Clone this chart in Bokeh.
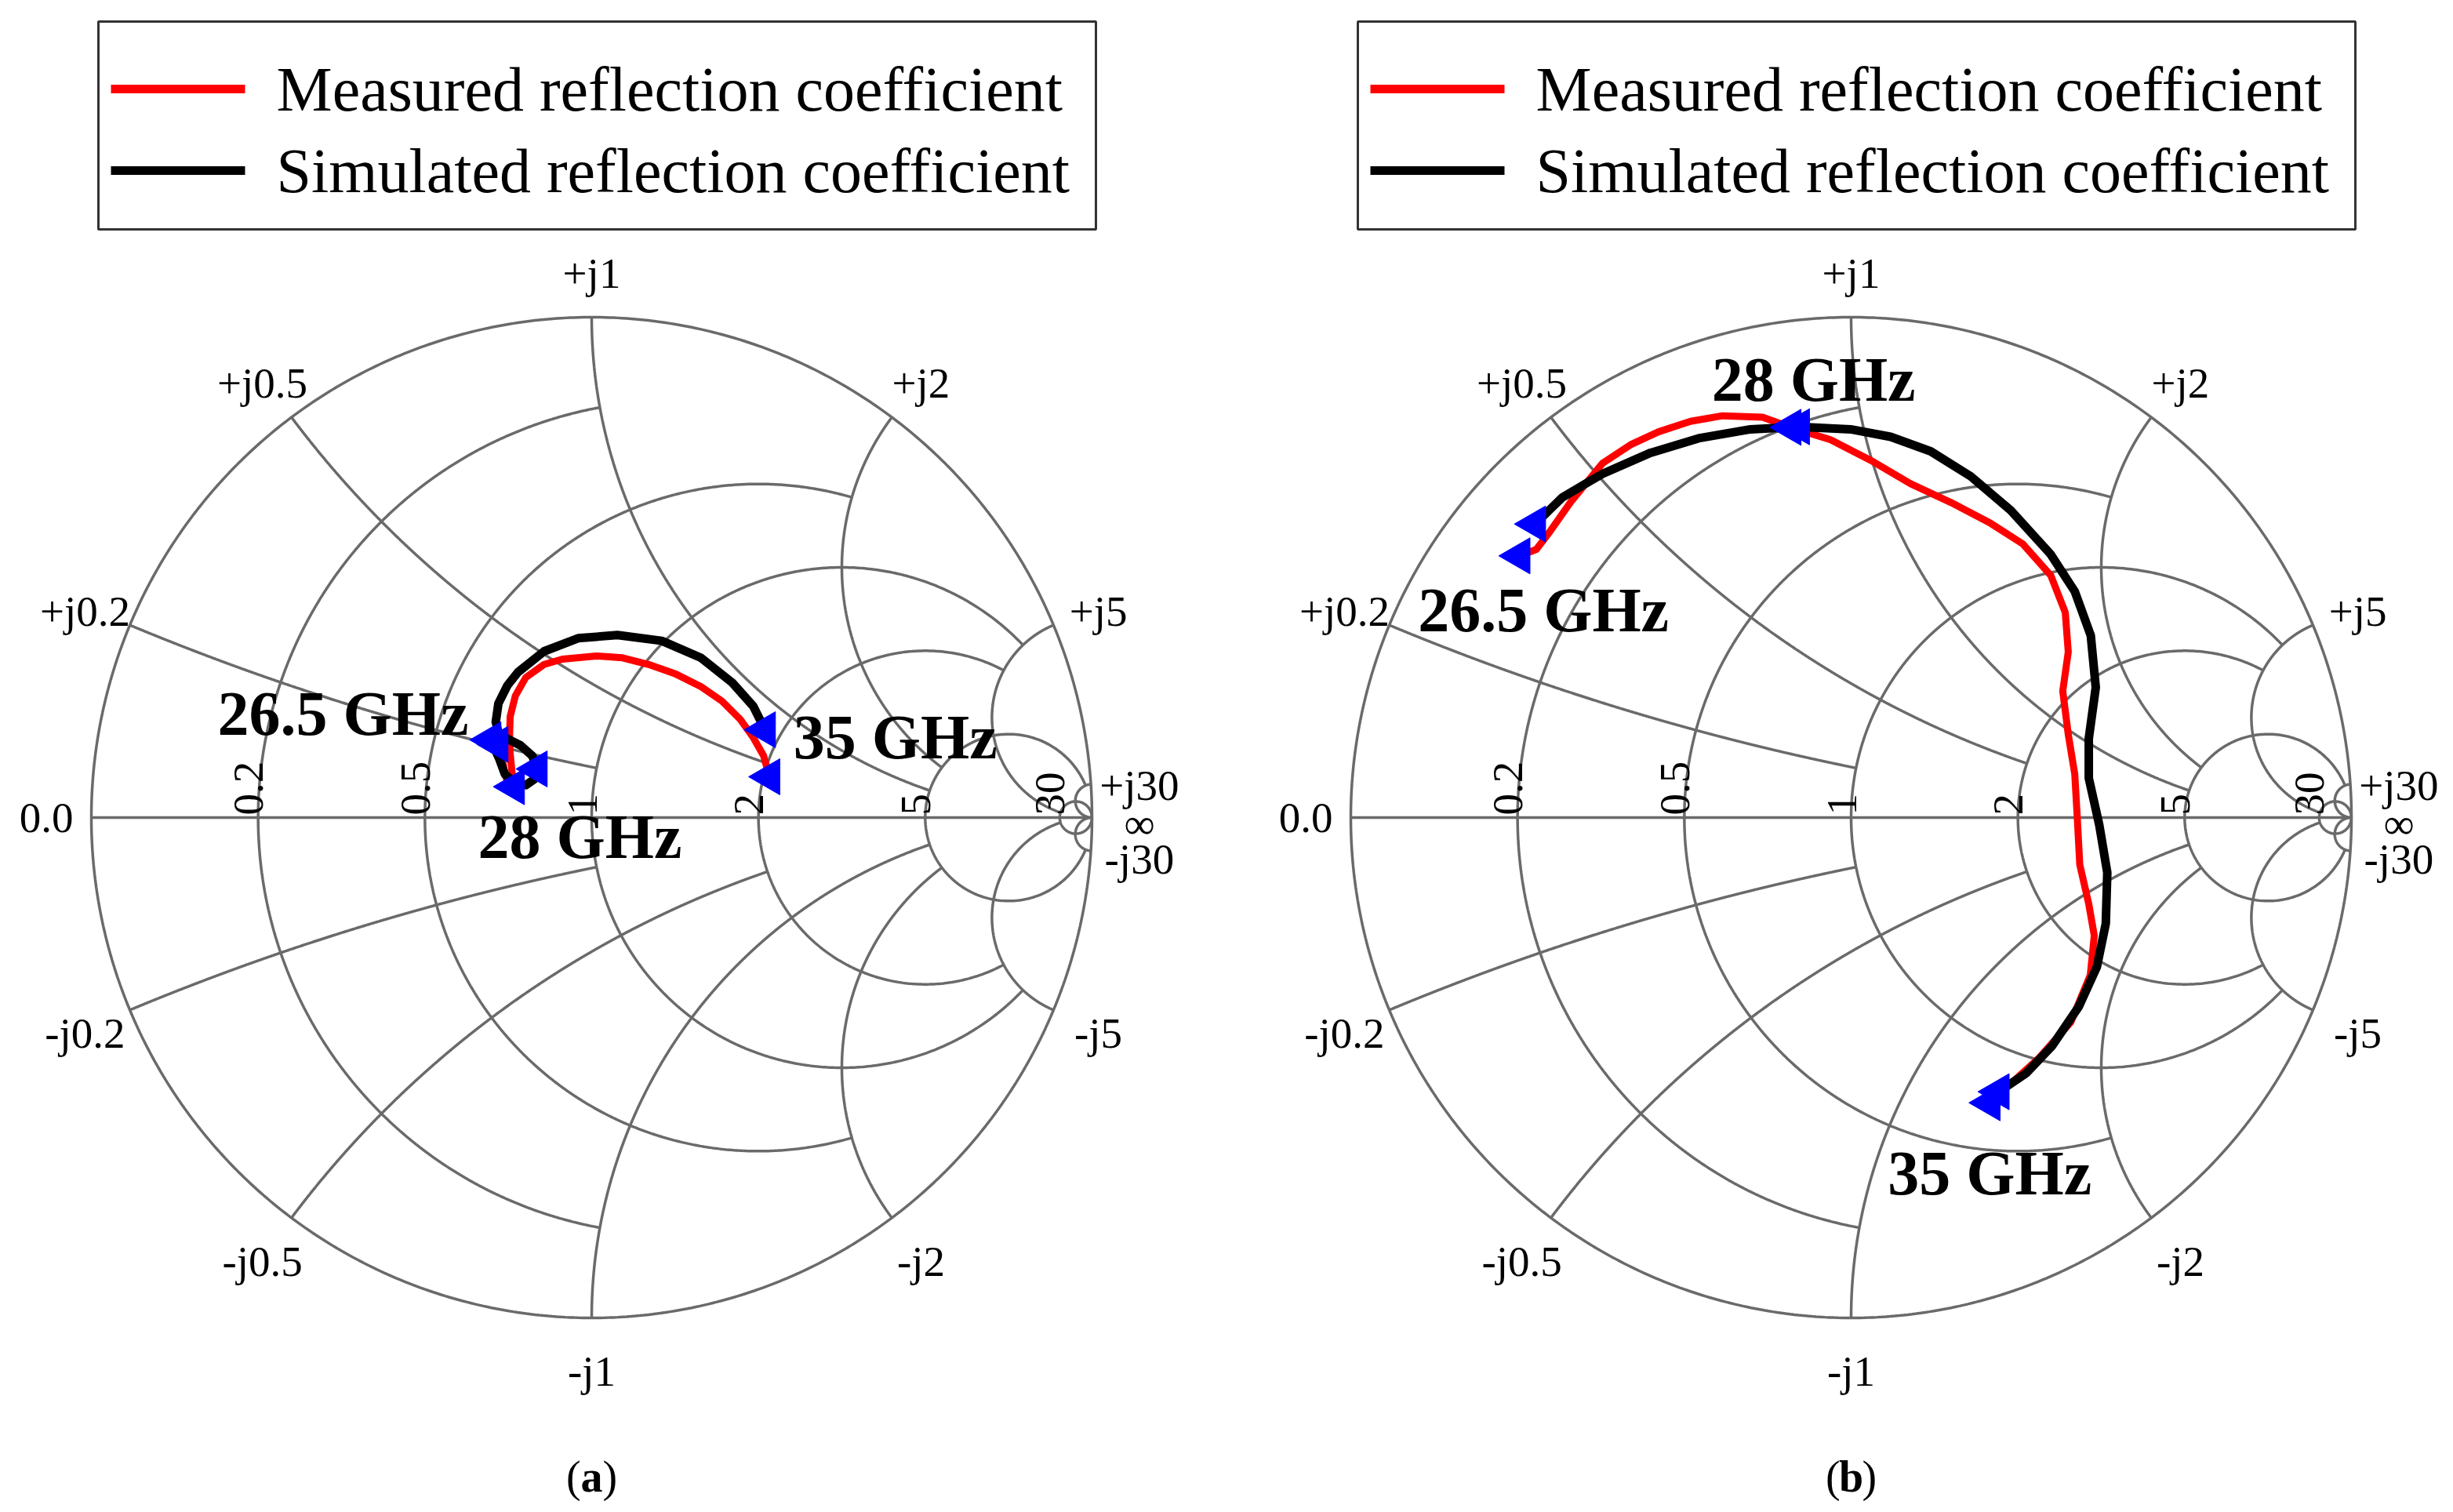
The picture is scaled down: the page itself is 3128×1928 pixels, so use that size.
import numpy as np
from bokeh.plotting import figure
from bokeh.models import Range1d
from bokeh.core.properties import value
from bokeh.embed import file_html
from bokeh.resources import INLINE

# Smith chart grid: circle values and up to which value each one is drawn
grid_values = [0.2, 0.5, 1, 2, 5, 30]
grid_limits = [1, 2, 5, 5, 30, np.inf]

legend_labels = ["Measured reflection coefficient", "Simulated reflection coefficient"]
freq_labels = ["26.5 GHz", "28 GHz", "35 GHz"]
panel_tags = ["a", "b"]

# (a) reflection coefficient, real / imaginary part (26.5 -> 35 GHz)
a_meas_re = [-0.1881, -0.1787, -0.1745, -0.1693, -0.1604, -0.1552, -0.1588, -0.1630, -0.1641, -0.1630,
             -0.1525, -0.1317, -0.0951, -0.0585, 0.0094, 0.0616, 0.1139, 0.1661, 0.2183, 0.2602,
             0.2967, 0.3229, 0.3437, 0.3553]
a_meas_im = [0.1463, 0.1181, 0.0920, 0.0737, 0.0648, 0.0617, 0.0867, 0.1285, 0.1651, 0.2017,
             0.2434, 0.2800, 0.3060, 0.3166, 0.3229, 0.3193, 0.3060, 0.2878, 0.2618, 0.2330,
             0.1964, 0.1599, 0.1233, 0.0815]
a_meas_28 = 5
a_sim_re = [-0.2022, -0.1850, -0.1735, -0.1525, -0.1317, -0.1149, -0.1097, -0.1186, -0.1421, -0.1682,
            -0.1865, -0.1917, -0.1865, -0.1682, -0.1473, -0.0951, -0.0271, 0.0513, 0.1400, 0.2183,
            0.2810, 0.3229, 0.3464]
a_sim_im = [0.1552, 0.1181, 0.0867, 0.0685, 0.0648, 0.0763, 0.0972, 0.1233, 0.1442, 0.1572,
            0.1703, 0.1912, 0.2278, 0.2644, 0.2905, 0.3323, 0.3584, 0.3647, 0.3532, 0.3193,
            0.2696, 0.2226, 0.1755]
a_sim_28 = 6

# (b)
b_meas_re = [-0.6627, -0.629, -0.601, -0.561, -0.497, -0.441, -0.385, -0.321, -0.257, -0.177,
             -0.121, -0.041, 0.039, 0.119, 0.199, 0.279, 0.343, 0.399, 0.428, 0.434,
             0.423, 0.434, 0.447, 0.452, 0.457, 0.475, 0.486, 0.478, 0.439, 0.376, 0.277]
b_meas_im = [0.523, 0.536, 0.573, 0.630, 0.708, 0.745, 0.771, 0.792, 0.803, 0.800,
             0.780, 0.755, 0.714, 0.667, 0.630, 0.588, 0.547, 0.484, 0.410, 0.331,
             0.253, 0.166, 0.087, 0.0, -0.094, -0.173, -0.236, -0.315, -0.409, -0.480, -0.570]
b_meas_28 = 10
b_sim_re = [-0.6315, -0.577, -0.497, -0.401, -0.305, -0.201, -0.104, -0.001, 0.079, 0.159,
            0.239, 0.319, 0.399, 0.447, 0.479, 0.489, 0.475, 0.475, 0.496, 0.512,
            0.509, 0.491, 0.455, 0.402, 0.350, 0.295]
b_sim_im = [0.5867, 0.640, 0.687, 0.729, 0.758, 0.776, 0.781, 0.776, 0.761, 0.732,
            0.682, 0.614, 0.526, 0.452, 0.364, 0.260, 0.158, 0.079, -0.015, -0.110,
            -0.212, -0.299, -0.378, -0.456, -0.511, -0.548]
b_sim_28 = 6

# where the frequency captions sit in each chart (unit circle coords)
a_label_pos = [(-0.497, 0.207), (-0.0235, -0.038), (0.607, 0.160)]
b_label_pos = [(-0.615, 0.415), (-0.075, 0.876), (0.277, -0.711)]

PX = 638.0          # pixels per unit radius
W, H = 3112, 1920
CX, CY = 754, 1042  # centre of chart (a) on the page
FONT = value("Liberation Serif")
GRID = "#6a6a6a"

p = figure(width=W, height=H, output_backend="svg", toolbar_location=None,
           x_range=Range1d(-CX / PX, -CX / PX + W / PX),
           y_range=Range1d(CY / PX - H / PX, CY / PX),
           x_axis_location=None, y_axis_location=None, min_border=0)
p.grid.visible = False
p.outline_line_color = None
p.background_fill_color = "white"
p.border_fill_color = "white"


def z2g(z):
    return (z - 1) / (z + 1)


def grid_lines():
    xs, ys = [], []
    t = np.linspace(0, 2 * np.pi, 721)
    xs.append(np.cos(t)); ys.append(np.sin(t))
    xs.append(np.array([-1.0, 1.0])); ys.append(np.array([0.0, 0.0]))
    for v, lim in zip(grid_values, grid_limits):
        tmax = np.arctan(lim) if np.isfinite(lim) else np.pi / 2 - 1e-7
        t = np.linspace(-tmax, tmax, 800)
        g = z2g(v + 1j * np.tan(t))          # resistance circle
        xs.append(g.real); ys.append(g.imag)
        t = np.linspace(0, tmax, 800)
        for s in (1, -1):                    # reactance arcs
            g = z2g(np.tan(t) + 1j * s * v)
            xs.append(g.real); ys.append(g.imag)
    return xs, ys


def draw_panel(dx, meas_re, meas_im, m28, sim_re, sim_im, s28, label_pos, tag):
    gx, gy = grid_lines()
    p.multi_line(xs=[x + dx for x in gx], ys=gy, line_color=GRID, line_width=3.5)

    # grid labels
    tx, ty, tt = [], [], []
    for v in grid_values:
        g = z2g(1j * v) * 1.097
        for s, sign in ((1, "+"), (-1, "-")):
            tx.append(g.real + dx); ty.append(s * g.imag - 6 / PX)
            tt.append(f"{sign}j{v:g}")
    tx += [-1.09 + dx, 1.095 + dx]; ty += [0.0, -0.012]; tt += ["0.0", "\u221e"]
    p.text(x=tx, y=ty, text=tt, text_font=FONT, text_font_size="55px",
           text_align="center", text_baseline="middle", text_color="black")
    rx = [(v - 1) / (v + 1) - 12 / PX + dx for v in grid_values]
    p.text(x=rx, y=[3 / PX] * len(rx), text=[f"{v:g}" for v in grid_values], angle=np.pi / 2,
           text_font=FONT, text_font_size="55px", text_align="left",
           text_baseline="alphabetic", text_color="black")

    # curves
    p.line([x + dx for x in meas_re], meas_im, line_color="red", line_width=9, line_join="round")
    p.line([x + dx for x in sim_re], sim_im, line_color="black", line_width=11, line_join="round")
    for re, im, i28 in ((meas_re, meas_im, m28), (sim_re, sim_im, s28)):
        idx = [0, i28, len(re) - 1]
        p.scatter([re[i] + dx for i in idx], [im[i] for i in idx], marker="triangle", size=46,
                  angle=np.pi / 2, fill_color="#0000ff", line_color="#0000ff")

    p.text(x=[q[0] + dx for q in label_pos], y=[q[1] for q in label_pos], text=freq_labels,
           text_font=FONT, text_font_size="80px", text_font_style="bold",
           text_align="center", text_baseline="middle", text_color="black")

    # legend box
    p.quad(left=-0.9859 + dx, right=1.0078 + dx, bottom=1.1755, top=1.5909,
           fill_color="white", line_color="#333333", line_width=3)
    ly = [1.4561, 1.2931]
    p.segment(x0=[-0.9608 + dx] * 2, x1=[-0.6928 + dx] * 2, y0=ly, y1=ly,
              line_color=["red", "black"], line_width=11)
    p.text(x=[-0.6301 + dx] * 2, y=ly, text=legend_labels, text_font=FONT,
           text_font_size="80px", text_align="left", text_baseline="middle", text_color="black")

    # (a) / (b)
    cy = -1.318
    p.text(x=[dx - 0.0365, dx + 0.0365], y=[cy, cy], text=["(", ")"], text_font=FONT,
           text_font_size="56px", text_align="center", text_baseline="middle", text_color="black")
    p.text(x=[dx], y=[cy], text=[tag], text_font=FONT, text_font_size="56px",
           text_font_style="bold", text_align="center", text_baseline="middle", text_color="black")


draw_panel(0.0, a_meas_re, a_meas_im, a_meas_28, a_sim_re, a_sim_im, a_sim_28, a_label_pos, panel_tags[0])
draw_panel(1606 / PX, b_meas_re, b_meas_im, b_meas_28, b_sim_re, b_sim_im, b_sim_28, b_label_pos, panel_tags[1])

open("out.html", "w").write(file_html(p, INLINE))
